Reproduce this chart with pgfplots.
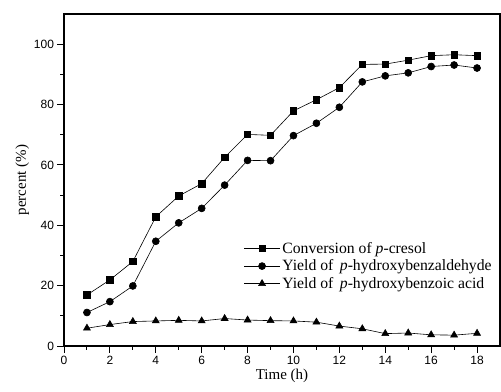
\documentclass[border=0pt]{standalone}
\usepackage{fontspec}
\setmainfont{Liberation Serif}
\newfontfamily\arial{Liberation Sans}
\usepackage{pgfplots}
\pgfplotsset{compat=1.18}
\begin{document}
\begin{tikzpicture}
\begin{axis}[
  name=ax,
  scale only axis,
  width=436bp, height=332bp,
  xmin=0, xmax=19, ymin=0, ymax=110,
  xtick={0,2,...,18}, ytick={0,20,...,100},
  minor x tick num=1, minor y tick num=1,
  tick align=outside,
  xtick pos=bottom, ytick pos=left,
  major tick length=6.5bp, minor tick length=3.5bp,
  axis line style={line width=1.1bp},
  every tick/.style={black, line width=0.9bp},
  tick label style={font=\arial\fontsize{12bp}{14bp}\selectfont},
  /pgf/number format/assume math mode=true,
  label style={font=\fontsize{15bp}{17bp}\selectfont},
  xlabel={Time (h)},
  ylabel={percent (\%)},
  xlabel style={yshift=2bp},
  ylabel style={yshift=-2bp},
  legend style={draw=none, fill=none, at={(0.405,0.325)}, anchor=north west,
    font=\fontsize{15.7bp}{17bp}\selectfont, row sep=1bp,
    /tikz/every even column/.append style={column sep=1bp}},
  legend cell align=left,
  legend image code/.code={\draw[#1,mark repeat=2,mark phase=2] plot coordinates {(0bp,0bp) (18bp,0bp) (36bp,0bp)};},
  every axis plot/.append style={black, line width=0.6bp},
]
\addplot[mark=square*, mark size=3.2bp, mark options={solid}] coordinates {
(1,16.9) (2,21.9) (3,28.0) (4,42.8) (5,49.7) (6,53.8) (7,62.5) (8,70.1) (9,69.8)
(10,77.9) (11,81.6) (12,85.6) (13,93.3) (14,93.4) (15,94.7) (16,96.2) (17,96.5) (18,96.2)};
\addlegendentry{Conversion of \textit{p}-cresol}
\addplot[mark=*, mark size=3.5bp] coordinates {
(1,11.1) (2,14.7) (3,19.9) (4,34.7) (5,40.8) (6,45.6) (7,53.3) (8,61.5) (9,61.4)
(10,69.7) (11,73.8) (12,79.1) (13,87.5) (14,89.5) (15,90.5) (16,92.6) (17,93.1) (18,92.1)};
\addlegendentry{Yield of \,\textit{p}-hydroxybenzaldehyde}
\addplot[mark=triangle*, mark size=4bp] coordinates {
(1,5.9) (2,7.1) (3,8.1) (4,8.3) (5,8.5) (6,8.3) (7,9.1) (8,8.6) (9,8.4)
(10,8.3) (11,7.9) (12,6.6) (13,5.7) (14,4.1) (15,4.3) (16,3.7) (17,3.6) (18,4.2)};
\addlegendentry{Yield of \,\textit{p}-hydroxybenzoic acid}
\end{axis}
\path (ax.south west) ++(-64bp,-46bp) coordinate (bl);
\path (ax.north east) ++(1bp,14bp) coordinate (tr);
\pgfresetboundingbox
\path[use as bounding box] (bl) rectangle (tr);
\end{tikzpicture}
\end{document}
